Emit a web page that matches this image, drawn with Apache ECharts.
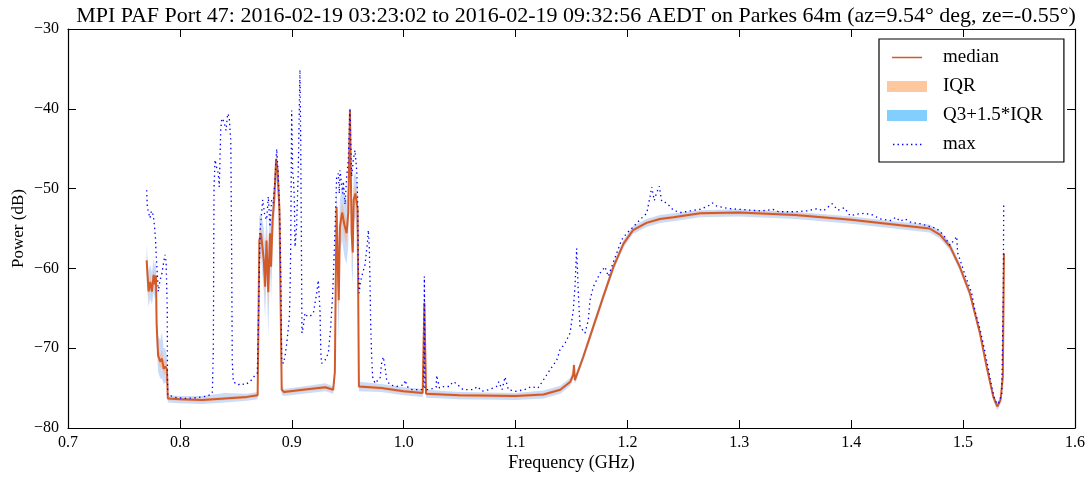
<!DOCTYPE html>
<html>
<head>
<meta charset="utf-8">
<script src="https://cdn.jsdelivr.net/npm/echarts@6/dist/echarts.min.js"></script>
<style>
html,body{margin:0;padding:0;background:#fff;}
#chart{width:1091px;height:477px;}
</style>
</head>
<body>
<div id="chart"></div>
<script>
// ---------------- data ----------------
const titleText = 'MPI PAF Port 47: 2016-02-19 03:23:02 to 2016-02-19 09:32:56 AEDT on Parkes 64m (az=9.54\u00b0 deg, ze=-0.55\u00b0)';
const xName = 'Frequency (GHz)';
const yName = 'Power (dB)';
const xMin = 0.7, xMax = 1.6, xStep = 0.1;
const yMin = -80, yMax = -30, yStep = 10;
const seriesNames = ['median', 'IQR', 'Q3+1.5*IQR', 'max'];

// frequency grid (GHz) for the median and the statistic bands
const medFreq = [
  0.7703,0.7720,0.7735,0.7750,0.7765,0.7775,0.7786,0.7792,0.7805,0.7825,
  0.7840,0.7855,0.7870,0.7884,0.7892,0.8000,0.8200,0.8400,0.8600,0.8695,
  0.8710,0.8725,0.8750,0.8762,0.8774,0.8790,0.8805,0.8815,0.8828,0.8843,
  0.8860,0.8872,0.8890,0.8910,0.8930,0.9100,0.9300,0.9370,0.9385,0.9400,
  0.9410,0.9420,0.9430,0.9450,0.9470,0.9490,0.9505,0.9520,0.9535,0.9545,
  0.9553,0.9568,0.9588,0.9600,0.9800,1.0000,1.0170,1.0185,1.0200,1.0500,
  1.1000,1.1250,1.1400,1.1490,1.1515,1.1522,1.1530,1.1605,1.1695,1.1785,
  1.1875,1.1965,1.2050,1.2170,1.2290,1.2410,1.2650,1.3000,1.3500,1.4000,
  1.4440,1.4700,1.4795,1.4885,1.4970,1.5060,1.5150,1.5210,1.5270,1.5305,
  1.5335,1.5355,1.5365
];
const medPower = [
  -59.0,-62.9,-61.7,-62.9,-60.8,-62.0,-60.9,-67.0,-70.9,-71.7,
  -71.3,-72.6,-72.3,-72.6,-76.3,-76.4,-76.5,-76.3,-76.1,-75.9,
  -56.5,-55.6,-59.0,-62.3,-56.5,-63.0,-55.6,-59.8,-54.0,-51.4,
  -46.4,-47.5,-52.7,-75.2,-75.5,-75.2,-74.9,-75.2,-73.0,-52.3,
  -59.0,-64.0,-54.8,-53.0,-54.5,-55.6,-53.0,-40.2,-55.6,-58.0,
  -51.4,-50.6,-52.5,-74.8,-75.0,-75.4,-75.6,-64.3,-75.7,-75.9,
  -76.0,-75.8,-75.2,-74.2,-73.3,-72.1,-74.0,-71.1,-67.3,-63.5,
  -59.8,-56.9,-55.2,-54.3,-53.8,-53.6,-53.1,-53.0,-53.3,-53.9,
  -54.6,-55.0,-55.8,-57.3,-59.8,-63.1,-68.1,-72.3,-76.1,-77.3,
  -76.5,-73.6,-58.1
];
const iqrLow = [
  -60.0,-63.6,-62.5,-63.6,-61.6,-62.8,-61.8,-67.8,-71.6,-72.5,
  -72.3,-73.4,-73.2,-73.4,-76.5,-76.6,-76.7,-76.5,-76.3,-76.1,
  -57.5,-56.8,-60.5,-64.0,-58.0,-65.0,-57.5,-61.5,-55.5,-52.5,
  -47.5,-48.5,-54.0,-75.4,-75.7,-75.4,-75.1,-75.4,-73.5,-54.0,
  -61.0,-66.0,-56.0,-54.3,-56.0,-57.0,-54.5,-41.0,-57.0,-59.5,
  -52.5,-51.8,-54.0,-75.0,-75.2,-75.6,-75.8,-65.0,-75.9,-76.1,
  -76.2,-76.0,-75.4,-74.4,-73.5,-72.4,-74.2,-71.3,-67.5,-63.7,
  -60.0,-57.1,-55.4,-54.5,-54.0,-53.8,-53.3,-53.2,-53.5,-54.1,
  -54.8,-55.2,-56.0,-57.5,-60.0,-63.3,-68.3,-72.5,-76.3,-77.5,
  -76.7,-74.0,-59.0
];
const iqrHigh = [
  -58.2,-62.0,-60.8,-62.0,-60.0,-61.0,-60.0,-66.0,-70.0,-70.8,
  -70.2,-71.6,-71.4,-71.8,-76.1,-76.2,-76.3,-76.1,-75.9,-75.7,
  -55.5,-54.5,-57.5,-60.5,-55.0,-61.0,-54.0,-58.0,-52.8,-50.5,
  -45.8,-46.5,-51.5,-75.0,-75.3,-75.0,-74.7,-75.0,-72.5,-51.0,
  -57.0,-62.0,-53.5,-51.8,-53.0,-54.0,-51.5,-39.8,-54.0,-56.0,
  -50.0,-49.5,-51.0,-74.6,-74.8,-75.2,-75.4,-63.5,-75.5,-75.7,
  -75.8,-75.6,-75.0,-74.0,-73.1,-71.8,-73.8,-70.9,-67.1,-63.3,
  -59.6,-56.7,-55.0,-54.1,-53.6,-53.4,-52.9,-52.8,-53.1,-53.7,
  -54.4,-54.8,-55.6,-57.1,-59.6,-62.9,-67.9,-72.1,-75.9,-77.1,
  -76.3,-73.0,-57.0
];
const whiskLow = [
  -61.5,-64.8,-63.8,-64.5,-63.0,-63.8,-63.0,-69.0,-73.0,-73.8,
  -73.8,-74.5,-74.3,-74.5,-76.8,-76.9,-77.0,-76.8,-76.6,-76.4,
  -59.0,-58.5,-63.0,-66.5,-60.0,-68.5,-60.0,-64.0,-57.5,-54.0,
  -49.0,-50.0,-56.0,-75.8,-76.0,-75.7,-75.4,-75.7,-74.0,-57.0,
  -64.0,-69.0,-58.0,-56.5,-58.5,-59.5,-57.0,-42.5,-60.0,-62.0,
  -54.5,-53.5,-56.5,-75.4,-75.5,-75.9,-76.1,-66.5,-76.2,-76.4,
  -76.5,-76.3,-75.7,-74.7,-73.8,-72.8,-74.5,-71.6,-67.8,-64.0,
  -60.3,-57.4,-55.7,-54.8,-54.3,-54.1,-53.6,-53.5,-53.8,-54.4,
  -55.1,-55.5,-56.3,-57.8,-60.3,-63.6,-68.6,-72.8,-76.6,-77.8,
  -77.0,-74.5,-60.5
];
const whiskHigh = [
  -57.0,-60.5,-59.5,-60.5,-58.8,-59.8,-59.0,-65.0,-68.5,-69.0,
  -68.0,-70.0,-70.0,-71.0,-75.9,-76.0,-76.0,-75.6,-75.7,-75.5,
  -53.5,-53.0,-55.0,-57.0,-53.0,-58.0,-52.5,-55.5,-51.5,-49.5,
  -45.2,-45.5,-50.0,-74.6,-75.1,-74.8,-74.4,-74.8,-71.5,-49.5,
  -54.0,-58.0,-51.5,-49.5,-51.0,-51.5,-49.5,-39.5,-51.0,-53.0,
  -48.5,-48.0,-49.5,-74.2,-74.5,-74.9,-75.1,-62.0,-75.2,-75.5,
  -75.6,-75.3,-74.7,-73.7,-72.8,-71.3,-73.5,-70.6,-66.8,-63.0,
  -59.3,-56.4,-54.7,-53.8,-53.3,-53.1,-52.7,-52.6,-52.9,-53.5,
  -54.2,-54.5,-55.3,-56.8,-59.3,-62.6,-67.6,-71.8,-75.6,-76.8,
  -76.0,-72.0,-55.0
];

// maximum power trace
const maxFreq = [
  0.7703,0.7709,0.7720,0.7733,0.7745,0.7762,0.7772,0.7782,0.7788,0.7795,
  0.7807,0.7822,0.7837,0.7852,0.7867,0.7877,0.7887,0.7889,0.7892,0.7927,
  0.7970,0.8050,0.8150,0.8250,0.8290,0.8299,0.8305,0.8314,0.8328,0.8343,
  0.8352,0.8365,0.8374,0.8394,0.8412,0.8427,0.8441,0.8448,0.8455,0.8463,
  0.8468,0.8477,0.8520,0.8550,0.8580,0.8627,0.8660,0.8692,0.8701,0.8716,
  0.8728,0.8740,0.8760,0.8776,0.8790,0.8805,0.8820,0.8835,0.8850,0.8865,
  0.8880,0.8895,0.8903,0.8910,0.8924,0.8940,0.8955,0.8970,0.8979,0.8984,
  0.8990,0.8993,0.8999,0.9008,0.9014,0.9023,0.9029,0.9043,0.9058,0.9067,
  0.9073,0.9080,0.9088,0.9091,0.9103,0.9118,0.9138,0.9163,0.9193,0.9223,
  0.9237,0.9252,0.9260,0.9267,0.9297,0.9327,0.9348,0.9366,0.9377,0.9392,
  0.9401,0.9416,0.9425,0.9431,0.9455,0.9461,0.9476,0.9491,0.9505,0.9520,
  0.9527,0.9535,0.9550,0.9565,0.9580,0.9589,0.9595,0.9603,0.9610,0.9625,
  0.9639,0.9655,0.9675,0.9684,0.9693,0.9699,0.9705,0.9714,0.9723,0.9744,
  0.9770,0.9789,0.9803,0.9818,0.9833,0.9848,0.9878,0.9938,1.0000,1.0015,
  1.0030,1.0075,1.0160,1.0180,1.0185,1.0190,1.0230,1.0290,1.0295,1.0320,
  1.0360,1.0410,1.0440,1.0470,1.0530,1.0620,1.0660,1.0700,1.0760,1.0830,
  1.0850,1.0880,1.0906,1.0935,1.1000,1.1080,1.1140,1.1200,1.1248,1.1308,
  1.1368,1.1397,1.1442,1.1487,1.1516,1.1531,1.1546,1.1561,1.1576,1.1621,
  1.1650,1.1665,1.1695,1.1755,1.1799,1.1829,1.1859,1.1904,1.1949,1.1993,
  1.2052,1.2112,1.2172,1.2202,1.2217,1.2240,1.2261,1.2285,1.2306,1.2351,
  1.2410,1.2470,1.2559,1.2648,1.2720,1.2760,1.2800,1.2900,1.3000,1.3100,
  1.3200,1.3300,1.3350,1.3500,1.3600,1.3700,1.3750,1.3830,1.3880,1.3940,
  1.3989,1.4050,1.4123,1.4190,1.4257,1.4350,1.4400,1.4436,1.4480,1.4530,
  1.4615,1.4764,1.4823,1.4883,1.4943,1.4950,1.4972,1.5017,1.5062,1.5075,
  1.5106,1.5151,1.5196,1.5230,1.5255,1.5285,1.5314,1.5345,1.5359,1.5363
];
const maxPower = [
  -50.2,-52.3,-53.0,-53.7,-52.8,-53.3,-54.6,-56.2,-58.3,-59.9,
  -62.9,-61.5,-60.8,-59.5,-58.3,-59.2,-65.0,-73.4,-75.9,-76.0,
  -76.2,-76.3,-76.2,-76.0,-75.6,-70.0,-50.0,-46.4,-47.3,-48.1,
  -49.8,-42.7,-41.2,-41.6,-42.7,-40.6,-41.0,-42.7,-44.0,-58.9,
  -71.5,-74.2,-74.6,-74.4,-74.6,-74.2,-73.6,-73.1,-67.3,-55.5,
  -53.5,-51.4,-53.5,-53.9,-51.0,-54.8,-51.4,-51.8,-49.0,-45.0,
  -48.5,-54.8,-62.0,-71.5,-71.9,-71.0,-69.4,-67.3,-66.0,-63.1,
  -58.0,-52.7,-40.2,-48.0,-48.5,-51.4,-57.3,-54.8,-47.7,-40.2,
  -35.1,-44.3,-61.0,-68.1,-67.3,-65.6,-66.0,-66.0,-65.6,-63.1,
  -61.5,-65.2,-70.6,-71.9,-71.5,-70.6,-67.3,-63.1,-58.9,-52.7,
  -48.5,-48.1,-50.6,-47.7,-50.6,-49.1,-52.0,-48.5,-46.4,-39.9,
  -39.7,-48.5,-46.4,-45.2,-47.7,-51.5,-60.0,-63.1,-62.0,-61.0,
  -61.0,-59.5,-56.9,-55.2,-57.5,-61.5,-66.9,-71.1,-73.6,-74.4,
  -74.0,-73.8,-71.9,-71.1,-72.3,-74.0,-74.6,-74.8,-74.6,-74.0,
  -74.8,-75.2,-75.2,-75.0,-61.0,-75.2,-75.2,-74.9,-73.4,-75.0,
  -74.8,-74.8,-74.2,-74.4,-75.2,-75.2,-74.8,-75.4,-75.2,-74.8,
  -74.2,-75.2,-73.6,-75.2,-75.4,-75.2,-74.8,-75.0,-74.0,-72.7,
  -71.5,-70.2,-69.4,-68.1,-65.2,-62.3,-57.5,-63.1,-67.3,-68.1,
  -66.5,-64.0,-62.3,-60.6,-59.8,-61.0,-59.8,-58.1,-56.4,-55.6,
  -54.8,-53.9,-53.1,-51.0,-49.8,-51.5,-50.5,-49.7,-51.6,-51.8,
  -52.7,-53.0,-52.8,-52.6,-52.2,-51.8,-52.2,-52.5,-52.6,-52.7,
  -52.8,-52.6,-52.9,-52.9,-52.8,-52.5,-52.8,-51.9,-52.7,-52.4,
  -53.4,-53.2,-53.1,-53.3,-53.8,-54.0,-53.6,-54.1,-53.8,-54.2,
  -54.4,-55.0,-55.8,-57.1,-56.0,-58.0,-58.9,-60.8,-62.5,-63.0,
  -65.3,-67.6,-70.5,-72.9,-74.8,-76.6,-77.0,-75.8,-63.1,-51.8
];

// ---------------- chart ----------------
const FONT = 'Liberation Serif';
const COL_MED = '#D35A29';
const COL_IQR = '#FFC79E';
const COL_WHISK = '#82CFFD';
const COL_MAX = '#0000FF';

const pairs = (xs, ys) => xs.map((x, i) => [x, ys[i]]);
const triples = (xs, lo, hi) => xs.map((x, i) => [x, lo[i], hi[i]]);
const minusFmt = v => (v < 0 ? '\u2212' + Math.abs(v) : String(v));

const corners = 'M0,0h0.01v0.01h-0.01zM50.99,10.99h0.01v0.01h-0.01z';
const iconLine = 'path://' + corners + 'M5,4.7h30v1.6h-30z';
const iconRect = 'path://' + corners + 'M0,0h40v11h-40z';
let dots = '';
for (const dx of [6, 10.5, 15, 19.5, 24, 28.5, 33]) dots += 'M' + dx + ',4.8h1.4v1.4h-1.4z';
const iconDots = 'path://' + corners + dots;

// band polygon drawn through the axis scales (api.coord)
function bandRenderer(lo, hi, fill, opacity) {
  return function (params, api) {
    if (params.dataIndex !== 0) return null;
    const top = [], bot = [];
    for (let i = 0; i < medFreq.length; i++) {
      top.push(api.coord([medFreq[i], hi[i]]));
      bot.push(api.coord([medFreq[i], lo[i]]));
    }
    return {
      type: 'polygon', silent: true,
      shape: {points: top.concat(bot.reverse())},
      style: {fill: fill, opacity: opacity, stroke: null}
    };
  };
}

const chart = echarts.init(document.getElementById('chart'), null, {renderer: 'canvas'});

const axisCommonX = {
  type: 'value', min: xMin, max: xMax, interval: xStep,
  splitLine: {show: false},
  axisLine: {show: true, onZero: false, lineStyle: {color: '#000', width: 1.2}},
  axisTick: {show: true, inside: true, length: 8, lineStyle: {color: '#000', width: 1}}
};
const axisCommonY = {
  type: 'value', min: yMin, max: yMax, interval: yStep,
  splitLine: {show: false},
  axisLine: {show: true, onZero: false, lineStyle: {color: '#000', width: 1.2}},
  axisTick: {show: true, inside: true, length: 8, lineStyle: {color: '#000', width: 1}}
};

const option = {
  animation: false,
  backgroundColor: '#fff',
  title: {
    text: titleText, left: 571, top: 0, textAlign: 'center',
    textStyle: {fontFamily: FONT, fontSize: 22, fontWeight: 'normal', color: '#000'}
  },
  grid: {left: 68, right: 16, top: 29, bottom: 49, containLabel: false, outerBoundsMode: 'none'},
  xAxis: [
    Object.assign({}, axisCommonX, {
      position: 'bottom',
      name: xName, nameLocation: 'middle', nameGap: 26, nameMoveOverlap: false,
      nameTextStyle: {fontFamily: FONT, fontSize: 18, color: '#000'},
      axisLabel: {show: true, margin: 7, fontFamily: FONT, fontSize: 16, color: '#000',
        showMinLabel: true, showMaxLabel: true, formatter: v => v.toFixed(1)}
    }),
    Object.assign({}, axisCommonX, {position: 'top', axisLabel: {show: false}})
  ],
  yAxis: [
    Object.assign({}, axisCommonY, {
      position: 'left',
      name: yName, nameLocation: 'middle', nameGap: 41, nameRotate: 90, nameMoveOverlap: false,
      nameTextStyle: {fontFamily: FONT, fontSize: 17, color: '#000'},
      axisLabel: {show: true, margin: 9, fontFamily: FONT, fontSize: 16, color: '#000',
        showMinLabel: true, showMaxLabel: true, formatter: minusFmt}
    }),
    Object.assign({}, axisCommonY, {position: 'right', axisLabel: {show: false}})
  ],
  legend: {
    orient: 'vertical', left: 879, top: 39,
    padding: [9, 21, 8, 8], itemGap: 10,
    itemWidth: 51, itemHeight: 11,
    backgroundColor: '#fff', borderColor: '#000', borderWidth: 1.2, borderRadius: 0,
    selectedMode: false,
    symbolKeepAspect: false,
    itemStyle: {borderWidth: 0},
    textStyle: {fontFamily: FONT, fontSize: 19, color: '#000'},
    data: [
      {name: seriesNames[0], icon: iconLine, itemStyle: {color: COL_MED, borderWidth: 0}},
      {name: seriesNames[1], icon: iconRect, itemStyle: {color: COL_IQR, borderWidth: 0}},
      {name: seriesNames[2], icon: iconRect, itemStyle: {color: COL_WHISK, borderWidth: 0}},
      {name: seriesNames[3], icon: iconDots, itemStyle: {color: COL_MAX, borderWidth: 0}}
    ]
  },
  series: [
    {
      name: seriesNames[2], type: 'custom', clip: true, silent: true,
      data: triples(medFreq, whiskLow, whiskHigh),
      encode: {x: 0, y: [1, 2]},
      itemStyle: {color: COL_WHISK},
      renderItem: bandRenderer(whiskLow, whiskHigh, '#A7C4F3', 0.6),
      z: 1
    },
    {
      name: seriesNames[1], type: 'custom', clip: true, silent: true,
      data: triples(medFreq, iqrLow, iqrHigh),
      encode: {x: 0, y: [1, 2]},
      itemStyle: {color: COL_IQR},
      renderItem: bandRenderer(iqrLow, iqrHigh, '#FDB383', 0.6),
      z: 2
    },
    {
      name: seriesNames[0], type: 'line', data: pairs(medFreq, medPower),
      symbol: 'none', silent: true, z: 3,
      itemStyle: {color: COL_MED},
      lineStyle: {color: COL_MED, width: 2}
    },
    {
      name: seriesNames[3], type: 'line', data: pairs(maxFreq, maxPower),
      symbol: 'none', silent: true, z: 4,
      itemStyle: {color: COL_MAX},
      lineStyle: {color: COL_MAX, width: 1.3, type: [1.4, 3.4]}
    }
  ]
};
chart.setOption(option);
</script>
</body>
</html>
